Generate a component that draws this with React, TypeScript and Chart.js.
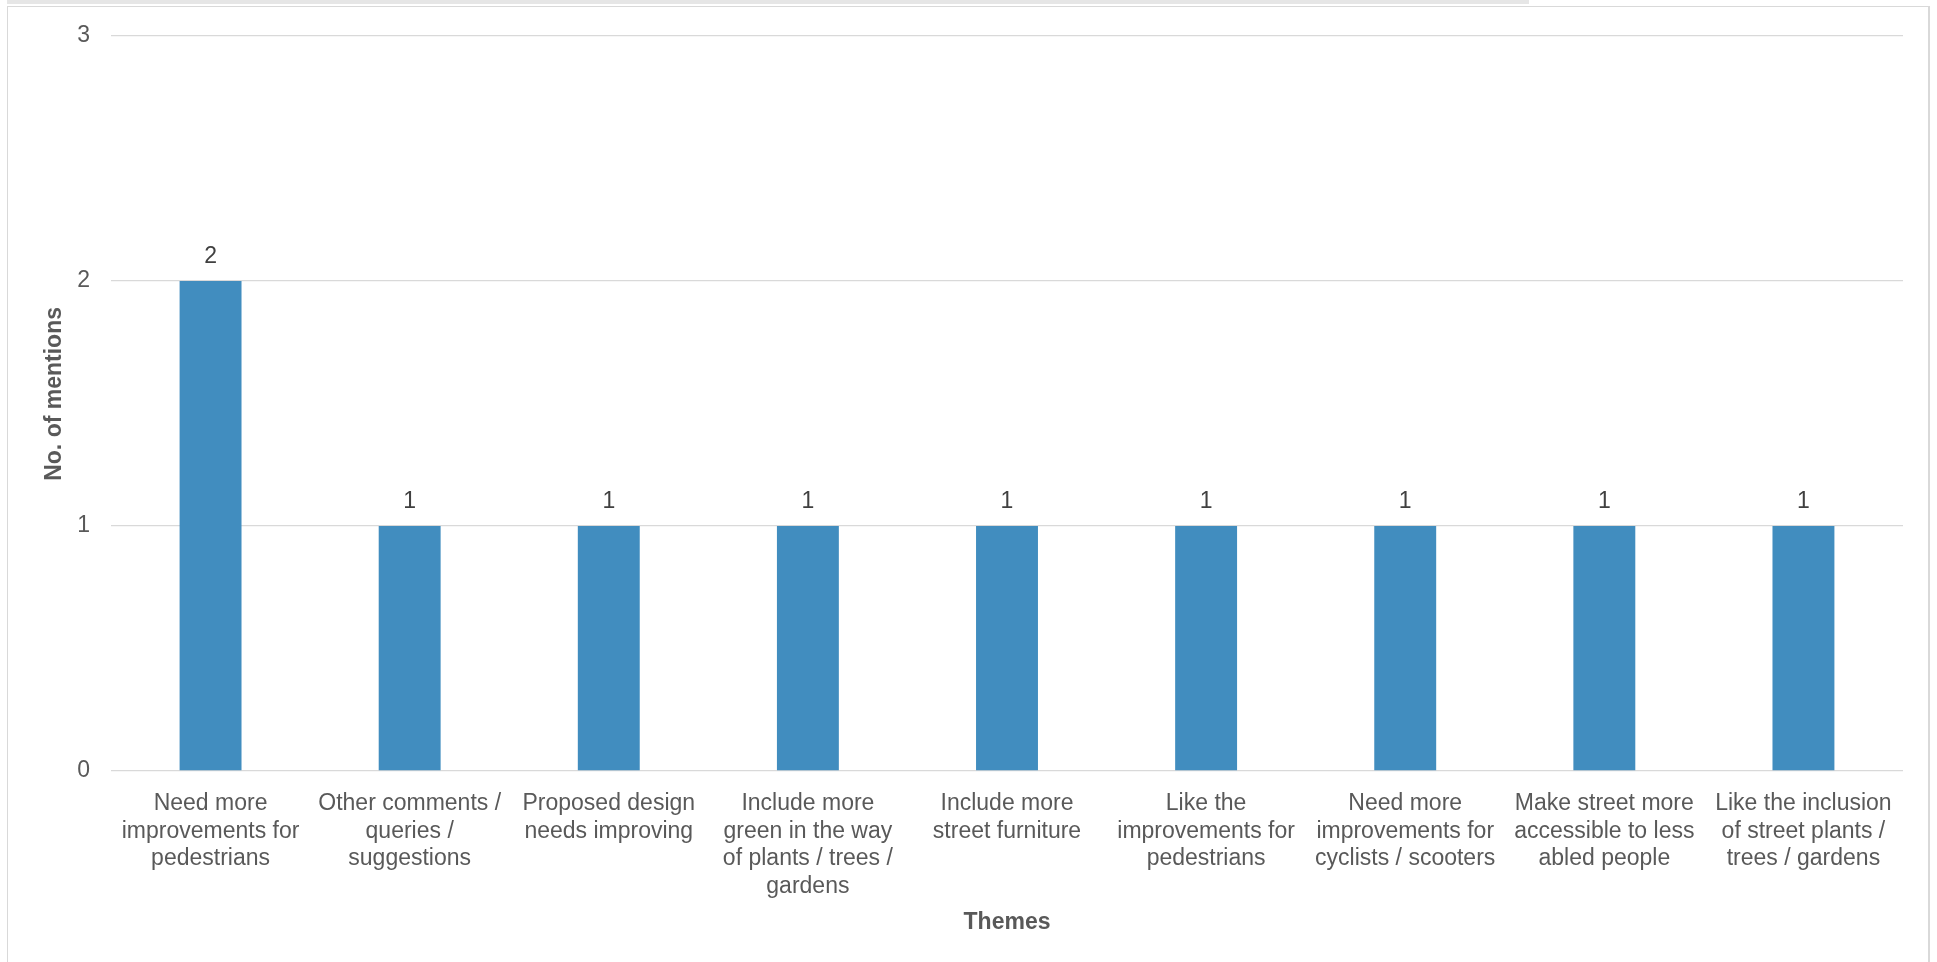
import React, { useEffect, useRef } from "react";
import { Chart, registerables } from "chart.js";

Chart.register(...registerables);

const categories: string[][] = [
  ["Need more", "improvements for", "pedestrians"],
  ["Other comments /", "queries /", "suggestions"],
  ["Proposed design", "needs improving"],
  ["Include more", "green in the way", "of plants / trees /", "gardens"],
  ["Include more", "street furniture"],
  ["Like the", "improvements for", "pedestrians"],
  ["Need more", "improvements for", "cyclists / scooters"],
  ["Make street more", "accessible to less", "abled people"],
  ["Like the inclusion", "of street plants /", "trees / gardens"],
];

const mentions: number[] = [2, 1, 1, 1, 1, 1, 1, 1, 1];

const yTicks: number[] = [0, 1, 2, 3];

const FONT = "'Liberation Sans', Arial, sans-serif";

const valueLabels = {
  id: "valueLabels",
  afterDatasetsDraw(chart: any) {
    const ctx = chart.ctx;
    const meta = chart.getDatasetMeta(0);
    ctx.save();
    ctx.font = `23px ${FONT}`;
    ctx.fillStyle = "#404040";
    ctx.textAlign = "center";
    ctx.textBaseline = "middle";
    meta.data.forEach((bar: any, i: number) => {
      ctx.fillText(String(mentions[i]), bar.x, bar.y - 24);
    });
    ctx.restore();
  },
};

export default function App() {
  const ref = useRef<HTMLCanvasElement | null>(null);

  useEffect(() => {
    if (!ref.current) return;
    const chart = new Chart(ref.current, {
      type: "bar",
      data: {
        labels: categories,
        datasets: [
          {
            data: mentions,
            backgroundColor: "#418DBF",
            categoryPercentage: 1,
            barPercentage: 0.311,
          },
        ],
      },
      options: {
        animation: false,
        responsive: false,
        maintainAspectRatio: false,
        layout: { padding: { left: 30, top: 36, right: 34, bottom: 0 } },
        plugins: {
          legend: { display: false },
          tooltip: { enabled: false },
        },
        scales: {
          x: {
            grid: { display: false, drawTicks: false },
            border: { display: false },
            ticks: {
              autoSkip: false,
              maxRotation: 0,
              minRotation: 0,
              padding: 19,
              color: "#595959",
              font: { family: FONT, size: 23, lineHeight: 1.2 },
            },
            title: {
              display: true,
              text: "Themes",
              color: "#595959",
              font: { family: FONT, size: 23, weight: "bold", lineHeight: 1.2 },
              padding: { top: 0, bottom: 26 },
            },
            afterFit: (scale: any) => {
              scale.height = 191;
            },
          },
          y: {
            min: 0,
            max: 3,
            grid: { color: "#D9D9D9", lineWidth: 1.3, drawTicks: false },
            border: { display: false },
            afterBuildTicks: (scale: any) => {
              scale.ticks = yTicks.map((v) => ({ value: v }));
            },
            ticks: {
              stepSize: 1,
              padding: 21,
              color: "#595959",
              font: { family: FONT, size: 23 },
            },
            title: {
              display: true,
              text: "\u00a0\u00a0\u00a0No. of mentions",
              color: "#595959",
              font: { family: FONT, size: 23, weight: "bold", lineHeight: 1.2 },
              padding: { top: 11, bottom: 0 },
            },
            afterFit: (scale: any) => {
              scale.width = 81;
            },
          },
        },
      },
      plugins: [valueLabels],
    });
    return () => chart.destroy();
  }, []);

  return (
    <div style={{ position: "fixed", left: 0, top: 0, width: 1937, height: 962, background: "#ffffff", overflow: "hidden" }}>
      <div style={{ position: "absolute", left: 7, top: 0, width: 1522, height: 4, background: "#E6E6E6" }} />
      <div
        style={{
          position: "absolute",
          left: 7,
          top: 6,
          width: 1923,
          height: 1000,
          borderLeft: "1px solid #D9D9D9",
          borderTop: "1px solid #D9D9D9",
          borderRight: "2px solid #D9D9D9",
          boxSizing: "border-box",
        }}
      />
      <canvas ref={ref} width={1937} height={962} style={{ position: "absolute", left: 0, top: 0, width: 1937, height: 962 }} />
    </div>
  );
}
